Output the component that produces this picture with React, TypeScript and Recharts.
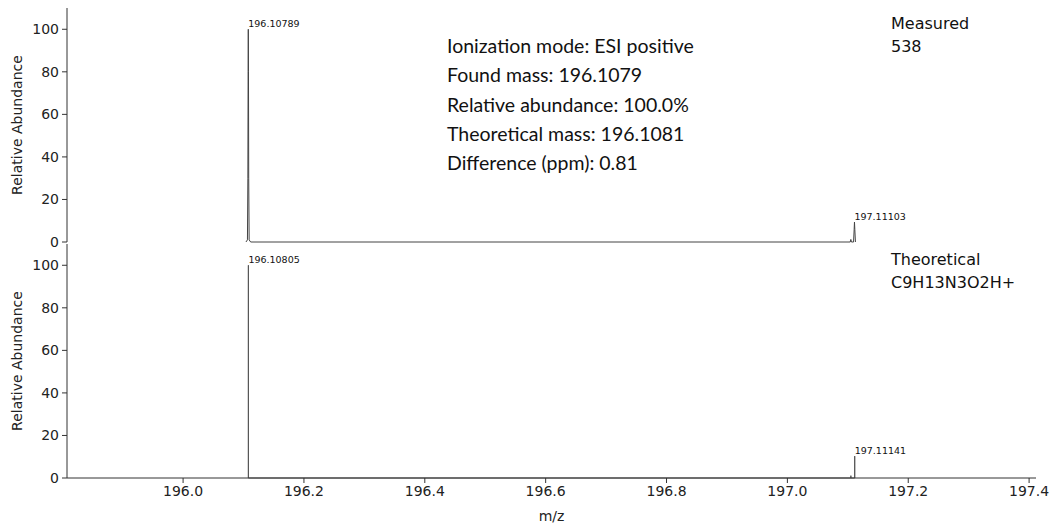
import { LineChart, Line, XAxis, YAxis, LabelList } from 'recharts';

// measured profile (m/z, relative abundance)
const measuredMz = [
  196.104, 196.1065, 196.1072, 196.1076, 196.10789, 196.1082, 196.1086, 196.1093, 196.1118,
  197.104, 197.105, 197.106, 197.1095, 197.1105, 197.11103, 197.1116, 197.1126,
];
const measuredAbund = [0, 1, 30, 80, 100, 80, 30, 1, 0, 0, 1.2, 0, 0, 6, 9.4, 6, 0];
const measuredPeakLabels = ['196.10789', '197.11103'];

// theoretical isotope sticks
const theoMz = [196.10805, 197.10508, 197.11141];
const theoAbund = [100, 1.1, 10.3];
const theoLabels = ['196.10805', '', '197.11141'];

const xTicks = [196.0, 196.2, 196.4, 196.6, 196.8, 197.0, 197.2, 197.4];
const yTicks = [0, 20, 40, 60, 80, 100];
const xDomain = [195.80789, 197.41141];
const yDomain = [0, 110];

const infoLines = [
  'Ionization mode: ESI positive',
  'Found mass: 196.1079',
  'Relative abundance: 100.0%',
  'Theoretical mass: 196.1081',
  'Difference (ppm): 0.81',
];

const measuredRows = measuredMz.map((mz, i) => ({
  mz,
  ab: measuredAbund[i],
  label: measuredPeakLabels.find((l) => Number(l) === mz) || '',
}));

const theoRows = theoMz.flatMap((mz, i) => [
  { mz, ab: 0, label: '' },
  { mz, ab: theoAbund[i], label: theoLabels[i] },
  { mz, ab: 0, label: '' },
]);

const FONT = "'DejaVu Sans', sans-serif";
const AXIS = '#333';
const tickStyle = { fill: '#222', fontSize: 14, fontFamily: FONT };

function PeakLabel(props: any) {
  const { x, y, value } = props;
  if (!value) return null;
  return (
    <text x={x} y={y - 2} fontSize={9.5} fontFamily={FONT} fill="#111">
      {value}
    </text>
  );
}

function yLabel({ viewBox }: any) {
  const cx = viewBox.x + 17;
  const cy = viewBox.y + viewBox.height / 2;
  return (
    <text x={cx} y={cy} transform={`rotate(-90, ${cx}, ${cy})`} textAnchor="middle" dominantBaseline="central"
      fontSize={14} fontFamily={FONT} fill="#222">
      Relative Abundance
    </text>
  );
}

function xLabel({ viewBox }: any) {
  return (
    <text x={viewBox.x + viewBox.width / 2} y={viewBox.y + 38} textAnchor="middle" dominantBaseline="central"
      fontSize={14} fontFamily={FONT} fill="#222">
      m/z
    </text>
  );
}

export default function App() {
  return (
    <div style={{ position: 'absolute', left: 0, top: 0, width: 1053, height: 526, background: '#fff' }}>
      {/* upper panel: measured spectrum (extra bottom room so the 0 label is not clipped) */}
      <div style={{ position: 'absolute', left: 0, top: 0 }}>
        <LineChart width={1053} height={256} data={measuredRows} margin={{ top: 8, right: 17, bottom: 14, left: 0 }}>
          <XAxis dataKey="mz" type="number" domain={xDomain} allowDataOverflow ticks={xTicks}
            tick={false} tickLine={false} height={0} axisLine={{ stroke: AXIS }} />
          <YAxis type="number" domain={yDomain} ticks={yTicks} interval={0} width={67} tick={tickStyle}
            tickSize={5} tickMargin={3} axisLine={{ stroke: AXIS }} tickLine={{ stroke: AXIS }} label={yLabel} />
          <Line dataKey="ab" type="linear" stroke="#444" strokeWidth={1} dot={false} isAnimationActive={false}>
            <LabelList dataKey="label" content={PeakLabel} />
          </Line>
        </LineChart>
      </div>
      {/* lower panel: theoretical isotope pattern */}
      <div style={{ position: 'absolute', left: 0, top: 244 }}>
        <LineChart width={1053} height={282} data={theoRows} margin={{ top: 0, right: 17, bottom: 0, left: 0 }}>
          <XAxis dataKey="mz" type="number" domain={xDomain} allowDataOverflow ticks={xTicks} interval={0}
            tickFormatter={(v: number) => v.toFixed(1)} height={48} tick={tickStyle} tickSize={5} tickMargin={3}
            axisLine={{ stroke: AXIS }} tickLine={{ stroke: AXIS }} label={xLabel} />
          <YAxis type="number" domain={yDomain} ticks={yTicks} interval={0} width={67} tick={tickStyle}
            tickSize={5} tickMargin={3} axisLine={{ stroke: AXIS }} tickLine={{ stroke: AXIS }} label={yLabel} />
          <Line dataKey="ab" type="linear" stroke="#555" strokeWidth={1} dot={false} isAnimationActive={false}>
            <LabelList dataKey="label" content={PeakLabel} />
          </Line>
        </LineChart>
      </div>

      <div style={{ position: 'absolute', left: 447, top: 31, fontFamily: 'Lato, sans-serif', fontSize: 19.5, color: '#111' }}>
        {infoLines.map((t) => (
          <div key={t} style={{ height: 29.3, lineHeight: '29px', whiteSpace: 'nowrap' }}>{t}</div>
        ))}
      </div>
      <div style={{ position: 'absolute', left: 891, top: 12, fontFamily: FONT, fontSize: 16, color: '#111', lineHeight: '23px' }}>
        <div>Measured</div>
        <div>538</div>
      </div>
      <div style={{ position: 'absolute', left: 891, top: 248, fontFamily: FONT, fontSize: 16, color: '#111', lineHeight: '23px' }}>
        <div>Theoretical</div>
        <div>C9H13N3O2H+</div>
      </div>
    </div>
  );
}
